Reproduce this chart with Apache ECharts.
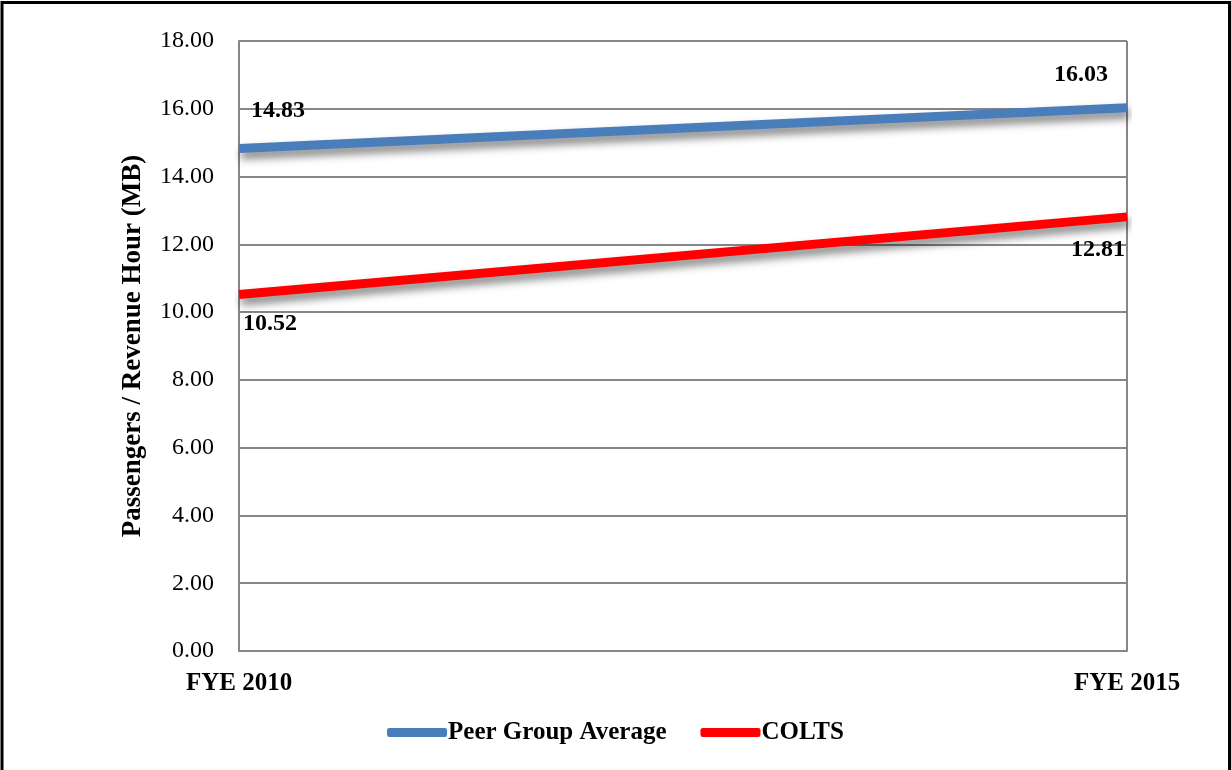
<!DOCTYPE html>
<html>
<head>
<meta charset="utf-8">
<title>Passengers / Revenue Hour (MB)</title>
<script src="https://cdn.jsdelivr.net/npm/echarts@6/dist/echarts.min.js"></script>
<style>
  html, body { margin: 0; padding: 0; background: #fff; }
  #chart { width: 1231px; height: 770px; }
</style>
</head>
<body>
<div id="chart"></div>
<script>
// Fiscal years on the x axis
const categories = ['FYE 2010', 'FYE 2015'];
// Passengers per revenue hour
const peerGroupAverage = [14.83, 16.03];
const colts = [10.52, 12.81];
// Value axis ticks
const yTicks = [0, 2, 4, 6, 8, 10, 12, 14, 16, 18];

// Where each value label sits relative to its point
const peerLabelOffsets = [[39, -38], [-46, -33]];
const coltsLabelOffsets = [[31, 29], [-29, 33]];

const SERIF = '"Liberation Serif", "DejaVu Serif", serif';

function withLabels(values, offsets) {
  return values.map((v, i) => ({
    value: v,
    label: { offset: offsets[i] }
  }));
}

const lineShadow = {
  shadowColor: 'rgba(0,0,0,0.5)',
  shadowBlur: 8,
  shadowOffsetX: 2,
  shadowOffsetY: 6
};

const chart = echarts.init(document.getElementById('chart'), null, { renderer: 'canvas' });

chart.setOption({
  animation: false,
  backgroundColor: '#ffffff',
  textStyle: { fontFamily: SERIF },
  graphic: [{
    type: 'rect',
    shape: { x: 2, y: 2.5, width: 1227.5, height: 800 },
    style: { fill: 'none', stroke: '#000', lineWidth: 3 },
    silent: true,
    z: 100
  }],
  grid: { left: 239, right: 104, top: 41, bottom: 119 },
  legend: {
    bottom: 20,
    left: 'center',
    icon: 'roundRect',
    itemWidth: 60,
    itemHeight: 9,
    itemGap: 34,
    textStyle: {
      fontFamily: SERIF, fontSize: 25, fontWeight: 'bold', color: '#000',
      padding: [0, 0, 0, -4]
    },
    data: ['Peer Group Average', 'COLTS']
  },
  xAxis: {
    type: 'category',
    data: categories,
    boundaryGap: false,
    axisLine: { show: true, lineStyle: { color: '#868686', width: 2 } },
    axisTick: { show: false },
    splitLine: { show: true, lineStyle: { color: '#868686', width: 2 } },
    axisLabel: {
      fontFamily: SERIF, fontSize: 25, fontWeight: 'bold', color: '#000',
      margin: 20
    }
  },
  yAxis: {
    type: 'value',
    min: yTicks[0],
    max: yTicks[yTicks.length - 1],
    interval: yTicks[1] - yTicks[0],
    name: 'Passengers / Revenue Hour (MB)',
    nameLocation: 'middle',
    nameGap: 92,
    nameTextStyle: { fontFamily: SERIF, fontSize: 27, fontWeight: 'bold', color: '#000' },
    axisLine: { show: true, lineStyle: { color: '#868686', width: 2 } },
    axisTick: { show: false },
    splitLine: { show: true, lineStyle: { color: '#868686', width: 2 } },
    axisLabel: {
      fontFamily: SERIF, fontSize: 24, color: '#000', margin: 25,
      formatter: v => v.toFixed(2)
    }
  },
  series: [
    {
      name: 'Peer Group Average',
      type: 'line',
      data: withLabels(peerGroupAverage, peerLabelOffsets),
      symbol: 'circle',
      symbolSize: 0,
      showSymbol: true,
      color: '#4A7EBB',
      lineStyle: Object.assign({ color: '#4A7EBB', width: 9 }, lineShadow),
      label: {
        show: true,
        position: 'inside',
        fontFamily: SERIF, fontSize: 24, fontWeight: 'bold', color: '#000',
        formatter: p => p.value.toFixed(2)
      },
      z: 3
    },
    {
      name: 'COLTS',
      type: 'line',
      data: withLabels(colts, coltsLabelOffsets),
      symbol: 'circle',
      symbolSize: 0,
      showSymbol: true,
      color: '#FF0000',
      lineStyle: Object.assign({ color: '#FF0000', width: 9 }, lineShadow),
      label: {
        show: true,
        position: 'inside',
        fontFamily: SERIF, fontSize: 24, fontWeight: 'bold', color: '#000',
        formatter: p => p.value.toFixed(2)
      },
      z: 3
    }
  ]
});
</script>
</body>
</html>
